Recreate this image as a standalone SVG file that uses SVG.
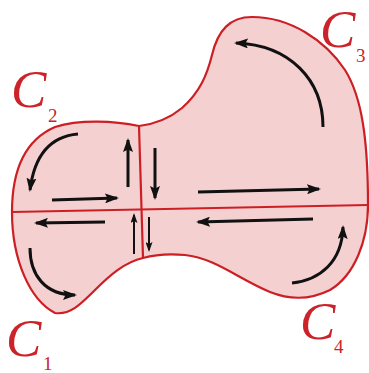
<svg xmlns="http://www.w3.org/2000/svg" width="369" height="373" viewBox="0 0 369 373">
<defs>
<style>
.region{fill:#f5d0d1;stroke:#cc1f24;stroke-width:2.2;stroke-linejoin:round}
.div{fill:none;stroke:#cc1f24;stroke-width:2.2}
.arr{fill:none;stroke:#111;stroke-width:3;marker-end:url(#ah)}
.arrs{fill:none;stroke:#111;stroke-width:2;marker-end:url(#ahs)}
.lab{font-family:"Liberation Serif","DejaVu Serif",serif;fill:#cc2229}
.big{font-size:53px;font-style:italic}
.sub{font-size:19px}
</style>
<marker id="ah" viewBox="0 0 14 10" markerWidth="14" markerHeight="10" refX="12" refY="5" orient="auto" markerUnits="userSpaceOnUse">
<path d="M0,0 L14,5 L0,10 L2.5,5 Z" fill="#111"/>
</marker>
<marker id="ahs" viewBox="0 0 10 7" markerWidth="10" markerHeight="7" refX="8" refY="3.5" orient="auto" markerUnits="userSpaceOnUse">
<path d="M0,0 L10,3.5 L0,7 L2,3.5 Z" fill="#111"/>
</marker>
</defs>
<g id="region">
<path class="region" d="M139,126 C155,124 170,118 182,108 C200,92 207,75 212,55 C218,30 230,17 252,17 C290,17 325,40 345,70 C362,97 368,140 368,205 C368,240 355,275 330,290 C310,300 290,300 270,292 C240,280 215,258 185,255 C165,253 150,256 143,258 C125,262 110,275 95,290 C80,305 70,315 55,313 C30,300 12,260 12,212 C12,170 25,140 55,127 C80,119 115,121 139,126 Z"/>
</g>
<g id="dividers">
<path class="div" d="M139,126 L143,258"/>
<path class="div" d="M12,212 L368,205"/>
</g>
<g id="connectors">
<path class="arr" d="M78,134 C55,136 35,150 30,190"/>
<path class="arr" d="M52,200 L117,198"/>
<path class="arr" d="M105,222 L36,223"/>
<path class="arr" d="M128,187 L128,140"/>
<path class="arr" d="M155,148 L155,198"/>
<path class="arrs" d="M134,254 L134,215"/>
<path class="arrs" d="M149,217 L149,250"/>
<path class="arr" d="M30,248 C30,275 45,295 75,295"/>
<path class="arr" d="M323,127 C323,80 290,45 236,43"/>
<path class="arr" d="M198,192 L319,189"/>
<path class="arr" d="M313,219 L198,222"/>
<path class="arr" d="M292,283 C320,280 342,262 343,227"/>
</g>
<g id="C1"><text class="lab big" x="6" y="356">C</text><text class="lab sub" x="43" y="370">1</text></g>
<g id="C2"><text class="lab big" x="11" y="107">C</text><text class="lab sub" x="48" y="122">2</text></g>
<g id="C3"><text class="lab big" x="320" y="47">C</text><text class="lab sub" x="356" y="62">3</text></g>
<g id="C4"><text class="lab big" x="300" y="339">C</text><text class="lab sub" x="334" y="353">4</text></g>
</svg>
